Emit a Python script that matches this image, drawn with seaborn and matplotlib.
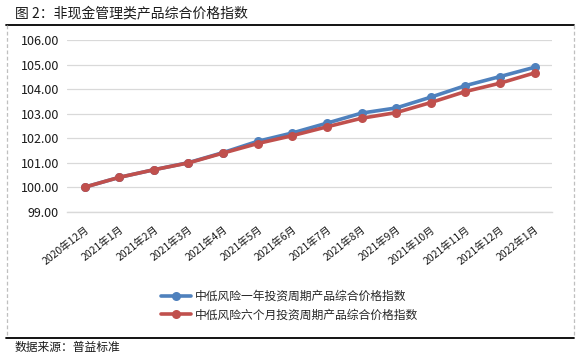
import matplotlib
matplotlib.use('Agg')
import matplotlib.pyplot as plt
import seaborn as sns
import pandas as pd
import numpy as np
from matplotlib.lines import Line2D

months = ['2020年12月', '2021年1月', '2021年2月', '2021年3月', '2021年4月', '2021年5月',
          '2021年6月', '2021年7月', '2021年8月', '2021年9月', '2021年10月', '2021年11月',
          '2021年12月', '2022年1月']
one_year = [100.00, 100.40, 100.71, 101.00, 101.41, 101.87, 102.21, 102.61, 103.02,
            103.23, 103.67, 104.14, 104.51, 104.89]
six_month = [100.00, 100.40, 100.71, 100.99, 101.39, 101.78, 102.10, 102.46, 102.81,
             103.04, 103.45, 103.90, 104.24, 104.66]
series_names = ['中低风险一年投资周期产品综合价格指数', '中低风险六个月投资周期产品综合价格指数']
yticks = [99, 100, 101, 102, 103, 104, 105, 106]
title = '图 2：非现金管理类产品综合价格指数'
source = '数据来源：普益标准'

colors = ['#4f81bd', '#c0504d']

sns.set_theme(style='white')
plt.rcParams['font.family'] = ['Noto Sans CJK SC', 'DejaVu Sans']

W, H = 583, 356
fig = plt.figure(figsize=(W / 100, H / 100), dpi=100)
ax = fig.add_axes([67.3 / W, 1 - 211.7 / H, (552 - 67.3) / W, (211.7 - 40) / H])

n = len(months)
df = pd.DataFrame({
    'idx': list(range(n)) * 2,
    'value': one_year + six_month,
    'series': [series_names[0]] * n + [series_names[1]] * n,
})
sns.lineplot(data=df, x='idx', y='value', hue='series', hue_order=series_names,
             palette=colors, marker='o', markersize=6.5, linewidth=2.6,
             markeredgewidth=0, ax=ax, legend=False)

ax.set_xlim(-0.5, n - 0.5)
ax.set_ylim(yticks[0], yticks[-1])
ax.set_yticks(yticks)
ax.set_yticklabels([f'{v:.2f}' for v in yticks], fontsize=9, color='#1a1a1a')
ax.yaxis.grid(True, color='#d9d9d9', linewidth=0.9)
ax.set_axisbelow(True)
ax.set_xlabel('')
ax.set_ylabel('')
for s in ['left', 'top', 'right']:
    ax.spines[s].set_visible(False)
ax.spines['bottom'].set_color('#d9d9d9')
ax.spines['bottom'].set_linewidth(1.0)
ax.tick_params(axis='y', length=0, pad=6)

ax.set_xticks(range(n))
ax.set_xticklabels(months, rotation=38, ha='right', va='top', rotation_mode='anchor',
                   fontsize=7.5, color='#1a1a1a')
ax.tick_params(axis='x', which='major', length=0, pad=9)
ax.set_xticks(np.arange(-0.5, n, 1), minor=True)
ax.tick_params(axis='x', which='minor', length=4, color='#d9d9d9', width=1.0, direction='out')

handles = [Line2D([], [], color=c, marker='o', markersize=6.5, linewidth=2.6,
                  markeredgewidth=0) for c in colors]
fig.legend(handles, series_names, loc='upper left',
           bbox_to_anchor=(161 / W, 1 - 290 / H), frameon=False, fontsize=8.5,
           handlelength=2.5, handletextpad=0.35, labelspacing=0.45, borderpad=0,
           borderaxespad=0)

fig.text(15 / W, 1 - 13 / H, title, fontsize=10, va='center', ha='left', color='#1a1a1a')
fig.text(15 / W, 1 - 347 / H, source, fontsize=8.5, va='center', ha='left', color='#1a1a1a')

fig.add_artist(Line2D([6 / W, 574 / W], [1 - 24.5 / H, 1 - 24.5 / H], color='black', lw=1.3,
                      transform=fig.transFigure))
fig.add_artist(Line2D([6 / W, 574 / W], [1 - 337.5 / H, 1 - 337.5 / H], color='black', lw=1.3,
                      transform=fig.transFigure))
for xp in [6.5, 574]:
    fig.add_artist(Line2D([xp / W, xp / W], [1 - 25 / H, 1 - 337 / H], color='#bfbfbf',
                          lw=0.9, ls=(0, (3, 2)), transform=fig.transFigure))

fig.savefig('out.png', dpi=100)
